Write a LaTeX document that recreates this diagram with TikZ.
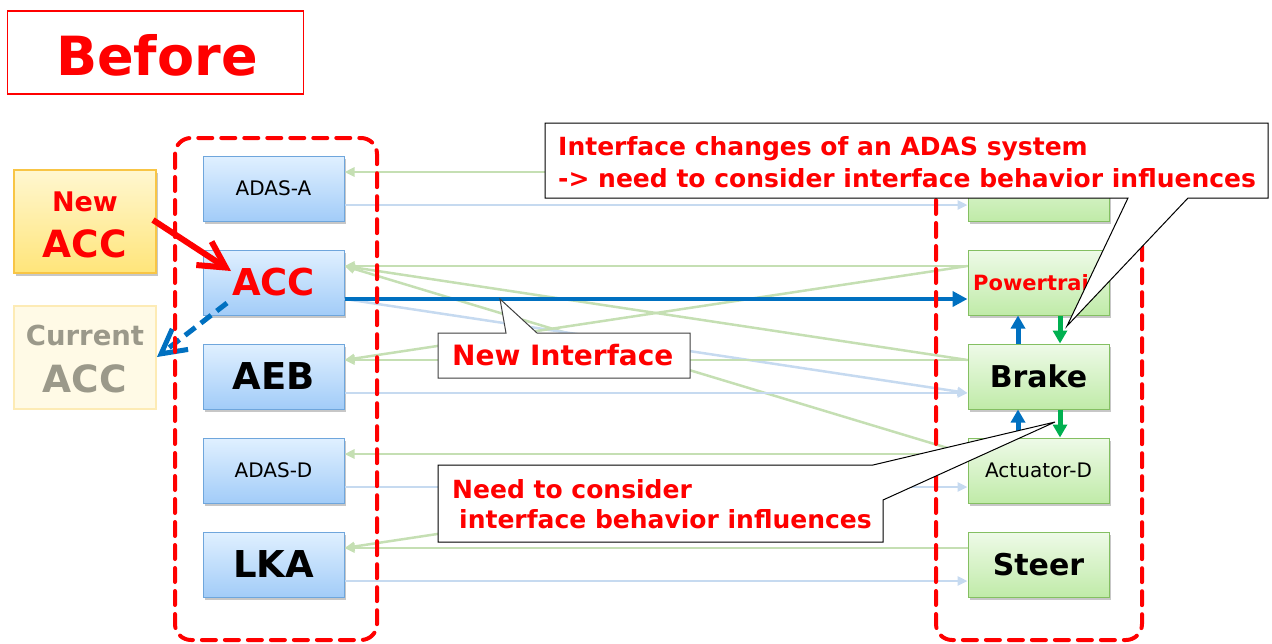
\documentclass[tikz,border=0pt]{standalone}
\usepackage{fontspec}
\setmainfont{DejaVu Sans}
\usetikzlibrary{arrows.meta,shadows,calc}

\definecolor{accred}{HTML}{FF0000}
\definecolor{ifblue}{HTML}{0070C0}
\definecolor{ifgreen}{HTML}{00B050}
\definecolor{faintgreen}{HTML}{C5DFB3}
\definecolor{faintblue}{HTML}{C6DAF0}
\definecolor{blueTop}{HTML}{E0F0FF}
\definecolor{blueBot}{HTML}{A2CCF8}
\definecolor{blueEdge}{HTML}{6FA6DC}
\definecolor{greenTop}{HTML}{EEFAE8}
\definecolor{greenBot}{HTML}{C0EBA8}
\definecolor{greenEdge}{HTML}{84BF62}
\definecolor{yelTop}{HTML}{FFF7D0}
\definecolor{yelBot}{HTML}{FFE57A}
\definecolor{yelEdge}{HTML}{F8C545}
\definecolor{paleFill}{HTML}{FFFAE6}
\definecolor{paleEdge}{HTML}{FDEBB5}
\definecolor{paleText}{HTML}{9B998A}

\newcommand{\fs}[1]{\fontsize{#1}{#1}\selectfont}

\begin{document}
\begin{tikzpicture}[x=1pt,y=-1pt,
  boxshadow/.style={drop shadow={shadow xshift=2pt, shadow yshift=-2.5pt, opacity=0.22, fill=black}},
  ecu/.style={minimum width=141pt, minimum height=65pt, inner sep=0pt, line width=1pt, boxshadow},
  adas/.style={ecu, draw=blueEdge, top color=blueTop, bottom color=blueBot},
  plant/.style={ecu, draw=greenEdge, top color=greenTop, bottom color=greenBot},
  fbk/.style={draw=faintgreen, line width=2.5pt, -{Triangle[length=10pt,width=9pt]}},
  cmd/.style={draw=faintblue, line width=2.5pt, -{Triangle[length=10pt,width=9pt]}},
  updown/.style={line width=5pt, -{Triangle[length=13pt,width=14pt]}},
  callout/.style={draw=black, line width=1pt, fill=white},
  calltext/.style={anchor=base west, text=accred, font=\bfseries\fs{25}, inner sep=0pt},
  zone/.style={draw=accred, line width=4pt, dash pattern=on 14pt off 9pt, line cap=round, rounded corners=16pt}
]
\useasboundingbox (0,0) rectangle (1272,643);

% heading
\node[draw=accred, line width=1.2pt, minimum width=296pt, minimum height=83pt, inner sep=0pt] (title) at (155.5,52.5) {};
\node[text=accred, font=\bfseries\fs{54}, anchor=base, inner sep=0pt] (titletext) at (157,75) {Before};

% ADAS functions
\node[adas, font=\fs{20}] (adasA) at (273.5,188.5) {ADAS-A};
\node[adas, font=\bfseries\fs{37}, text=accred] (acc) at (273.5,282.5) {ACC};
\node[adas, font=\bfseries\fs{37}] (aeb) at (273.5,376.5) {AEB};
\node[adas, font=\fs{20}] (adasD) at (273.5,470.5) {ADAS-D};
\node[adas, font=\bfseries\fs{37}] (lka) at (273.5,564.5) {LKA};

% actuators
\node[plant] (actA) at (1038.5,188.5) {};
\node[plant, font=\bfseries\fs{21}, text=accred] (pt) at (1038.5,282.5) {Powertrain};
\node[plant, font=\bfseries\fs{30}] (brake) at (1038.5,376.5) {Brake};
\node[plant, font=\fs{20}] (actD) at (1038.5,470.5) {Actuator-D};
\node[plant, font=\bfseries\fs{30}] (steer) at (1038.5,564.5) {Steer};

% new and current ACC
\node[draw=yelEdge, line width=1.2pt, top color=yelTop, bottom color=yelBot, minimum width=142pt, minimum height=103pt, boxshadow] (newacc) at (85,221.5) {};
\node[text=accred, font=\bfseries\fs{27}, anchor=base, inner sep=0pt] (newword) at (85,211) {New};
\node[text=accred, font=\bfseries\fs{37.5}, anchor=base, inner sep=0pt] (newname) at (85,257) {ACC};
\node[draw=paleEdge, line width=1.2pt, fill=paleFill, minimum width=142pt, minimum height=103pt] (curacc) at (85,357.5) {};
\node[text=paleText, font=\bfseries\fs{27.5}, anchor=base, inner sep=0pt] (curword) at (85,345) {Current};
\node[text=paleText, font=\bfseries\fs{37.5}, anchor=base, inner sep=0pt] (curname) at (85,392) {ACC};

% feedback and command interfaces
\draw[fbk] ([yshift=16.5pt]actA.west) -- ([yshift=16.5pt]adasA.east);
\draw[cmd] ([yshift=-16.5pt]adasA.east) -- ([yshift=-16.5pt]actA.west);
\draw[fbk] ([yshift=16.5pt]pt.west) -- ([yshift=16.5pt]acc.east);
\draw[fbk] ([yshift=16.5pt]brake.west) -- ([yshift=16.5pt]acc.east);
\draw[fbk] ([yshift=16.5pt]actD.west) -- ([yshift=16.5pt]acc.east);
\draw[cmd] ([yshift=-16.5pt]acc.east) -- ([yshift=-16.5pt]brake.west);
\draw[fbk] ([yshift=16.5pt]pt.west) -- ([yshift=16.5pt]aeb.east);
\draw[fbk] ([yshift=16.5pt]brake.west) -- ([yshift=16.5pt]aeb.east);
\draw[cmd] ([yshift=-16.5pt]aeb.east) -- ([yshift=-16.5pt]brake.west);
\draw[fbk] ([yshift=16.5pt]actD.west) -- ([yshift=16.5pt]adasD.east);
\draw[cmd] ([yshift=-16.5pt]adasD.east) -- ([yshift=-16.5pt]actD.west);
\draw[fbk] ([yshift=16.5pt]steer.west) -- ([yshift=16.5pt]lka.east);
\draw[fbk] ([yshift=16.5pt]actD.west) -- ([yshift=16.5pt]lka.east);
\draw[cmd] ([yshift=-16.5pt]lka.east) -- ([yshift=-16.5pt]steer.west);

% the new interface
\draw[ifblue, line width=4pt, -{Triangle[length=15pt,width=15pt]}] ([yshift=-16.5pt]acc.east) -- ([yshift=-16.5pt]pt.west);

% interactions between actuators
\draw[ifblue, updown] ([xshift=-20.5pt]brake.north) -- ([xshift=-20.5pt]pt.south);
\draw[ifgreen, updown] ([xshift=21.5pt]pt.south) -- ([xshift=21.5pt]brake.north);
\draw[ifblue, updown] ([xshift=-20.5pt]actD.north) -- ([xshift=-20.5pt]brake.south);
\draw[ifgreen, updown] ([xshift=21.5pt]brake.south) -- ([xshift=21.5pt]actD.north);

% replacement of ACC
\coordinate (redS) at (153,220);
\coordinate (redE) at (231,271);
\draw[accred, line width=6pt, -{Straight Barb[length=26pt,width=28pt]}] (redS) -- (redE);
\coordinate (oldS) at (227,303);
\coordinate (oldE) at (157,357);
\draw[ifblue, line width=5pt, dash pattern=on 13pt off 7pt, -{Straight Barb[length=24pt,width=26pt]}] (oldS) -- (oldE);

% system boundaries
\draw[zone] (175,138) rectangle (377,640);
\draw[zone] (936,138) rectangle (1142,640);

% callouts
\draw[callout] (545,123) -- (1268,123) -- (1268,198) -- (1188,198) -- (1067,326) -- (1128,198) -- (545,198) -- cycle;
\node[calltext] (noteA1) at (558,155) {Interface changes of an ADAS system};
\node[calltext] (noteA2) at (558,187) {-> need to consider interface behavior influences};

\draw[callout, draw=black!75] (438,333) -- (506,333) -- (500,299) -- (537,333) -- (690,333) -- (690,378) -- (438,378) -- cycle;
\node[calltext, font=\bfseries\fs{28}] (noteB) at (452,365) {New Interface};

\draw[callout] (438,465) -- (873,465) -- (1055,422) -- (883,500) -- (883,542) -- (438,542) -- cycle;
\node[calltext] (noteC1) at (452,498) {Need to consider};
\node[calltext] (noteC2) at (459,528) {interface behavior influences};
\end{tikzpicture}
\end{document}
